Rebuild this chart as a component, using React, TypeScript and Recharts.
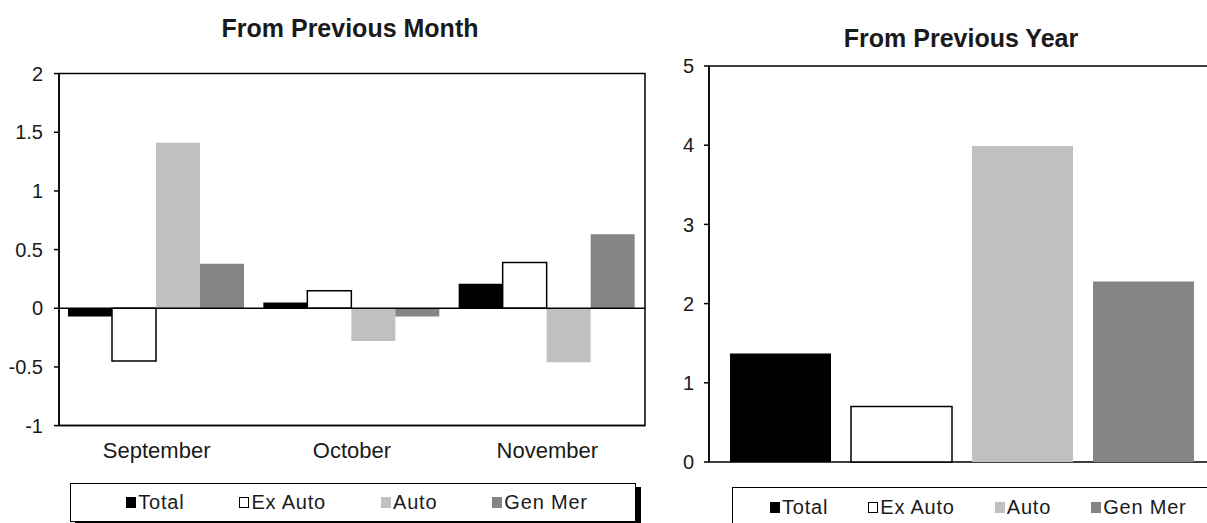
import React from 'react';
import { BarChart, Bar, XAxis, YAxis, ReferenceLine, ReferenceArea, Legend } from 'recharts';

// ---- data ----
const months = ['September', 'October', 'November'];
const totalMonthly = [-0.07, 0.05, 0.21];
const exAutoMonthly = [-0.45, 0.15, 0.39];
const autoMonthly = [1.41, -0.28, -0.46];
const genMerMonthly = [0.38, -0.07, 0.63];

const yearCategory = ['Year'];
const totalYearly = [1.37];
const exAutoYearly = [0.7];
const autoYearly = [3.99];
const genMerYearly = [2.28];

const monthTicks = [-1, -0.5, 0, 0.5, 1, 1.5, 2];
const yearTicks = [0, 1, 2, 3, 4, 5];

const seriesKeys = ['total', 'exAuto', 'auto', 'genMer'];
const seriesNames = ['Total', 'Ex Auto', 'Auto', 'Gen Mer'];

const monthlyData = months.map((m, i) => ({
  name: m,
  total: totalMonthly[i],
  exAuto: exAutoMonthly[i],
  auto: autoMonthly[i],
  genMer: genMerMonthly[i],
}));

const yearlyData = yearCategory.map((c, i) => ({
  name: c,
  total: totalYearly[i],
  exAuto: exAutoYearly[i],
  auto: autoYearly[i],
  genMer: genMerYearly[i],
}));

// ---- styles ----
const FONT = '"Liberation Sans", Arial, sans-serif';
const TEXT = '#1a1a1a';
const seriesStyle: Record<string, { fill: string; stroke?: string }> = {
  total: { fill: '#000000' },
  exAuto: { fill: '#ffffff', stroke: '#000000' },
  auto: { fill: '#c0c0c0' },
  genMer: { fill: '#858585' },
};

const makeLegend = (padLeft: number, gap: number, justify: string) => (props: any) => {
  const payload = [...(props.payload || [])].sort(
    (a: any, b: any) => seriesKeys.indexOf(a.dataKey) - seriesKeys.indexOf(b.dataKey)
  );
  return (
    <div
      style={{
        boxSizing: 'border-box',
        width: '100%',
        height: '100%',
        border: '1.5px solid #000',
        boxShadow: '5px 4px 0 #000',
        background: '#fff',
        display: 'flex',
        alignItems: 'center',
        justifyContent: justify,
        paddingLeft: padLeft,
        gap: gap,
        fontFamily: FONT,
        fontSize: 20,
        letterSpacing: 0.8,
        color: TEXT,
      }}
    >
      {payload.map((p: any) => {
        const st = seriesStyle[p.dataKey as string];
        return (
          <div key={String(p.dataKey)} style={{ display: 'flex', alignItems: 'center' }}>
            <span
              style={{
                display: 'inline-block',
                boxSizing: 'border-box',
                width: 10,
                height: 11,
                background: st.fill,
                border: st.stroke ? '1.3px solid #000' : 'none',
                marginRight: 2,
              }}
            />
            <span>{p.value}</span>
          </div>
        );
      })}
    </div>
  );
};

const LeftLegend = makeLegend(8, 55, 'center');
const RightLegend = makeLegend(37, 40, 'flex-start');

const titleStyle = (left: number, top: number, width: number): React.CSSProperties => ({
  position: 'absolute',
  left,
  top,
  width,
  textAlign: 'center',
  fontFamily: FONT,
  fontWeight: 'bold',
  fontSize: 25,
  lineHeight: '25px',
  color: TEXT,
});

export default function App() {
  return (
    <div
      style={{
        position: 'fixed',
        left: 0,
        top: 0,
        width: 1207,
        height: 523,
        overflow: 'hidden',
        background: '#fff',
        fontFamily: FONT,
      }}
    >
      <div style={titleStyle(150, 16, 400)}>From Previous Month</div>
      <div style={titleStyle(761, 26, 400)}>From Previous Year</div>

      <div style={{ position: 'absolute', left: 0, top: 0 }}>
        <BarChart
          width={660}
          height={523}
          data={monthlyData}
          margin={{ top: 73.6, right: 15, left: 0, bottom: 57.4 }}
          barCategoryGap={9}
          barGap={0}
        >
          <XAxis
            dataKey="name"
            height={40}
            tickLine={false}
            tickSize={0}
            tickMargin={17}
            axisLine={{ stroke: '#000', strokeWidth: 1.5 }}
            tick={{ fontSize: 22, fill: TEXT, fontFamily: FONT }}
            interval={0}
          />
          <YAxis
            width={59}
            domain={[-1, 2]}
            ticks={monthTicks}
            interval={0}
            tickSize={5}
            tickMargin={11}
            axisLine={{ stroke: '#000', strokeWidth: 1.5 }}
            tickLine={{ stroke: '#000', strokeWidth: 1.5 }}
            tick={{ fontSize: 20, fill: TEXT, fontFamily: FONT }}
          />
          <ReferenceArea y1={-1} y2={2} fill="none" fillOpacity={0} stroke="#000" strokeWidth={1.5} />
          {seriesKeys.map((k, i) => (
            <Bar
              key={k}
              dataKey={k}
              name={seriesNames[i]}
              fill={seriesStyle[k].fill}
              stroke={seriesStyle[k].stroke || 'none'}
              strokeWidth={1.5}
              isAnimationActive={false}
            />
          ))}
          <ReferenceLine y={0} stroke="#000" strokeWidth={1.5} />
          <Legend
            layout="horizontal"
            verticalAlign="middle"
            align="center"
            itemSorter={null as any}
            content={LeftLegend}
            wrapperStyle={{ left: 70, top: 483, width: 566, height: 39 }}
          />
        </BarChart>
      </div>

      <div style={{ position: 'absolute', left: 660, top: 0 }}>
        <BarChart
          width={569}
          height={523}
          data={yearlyData}
          margin={{ top: 66, right: 15, left: 0, bottom: 61 }}
          barCategoryGap={21}
          barGap={20}
        >
          <XAxis
            dataKey="name"
            height={0}
            tick={false}
            tickLine={false}
            axisLine={{ stroke: '#000', strokeWidth: 1.5 }}
          />
          <YAxis
            width={49}
            domain={[0, 5]}
            ticks={yearTicks}
            interval={0}
            tickSize={5}
            tickMargin={10}
            axisLine={{ stroke: '#000', strokeWidth: 1.5 }}
            tickLine={{ stroke: '#000', strokeWidth: 1.5 }}
            tick={{ fontSize: 20, fill: TEXT, fontFamily: FONT }}
          />
          <ReferenceArea y1={0} y2={5} fill="none" fillOpacity={0} stroke="#000" strokeWidth={1.5} />
          {seriesKeys.map((k, i) => (
            <Bar
              key={k}
              dataKey={k}
              name={seriesNames[i]}
              fill={seriesStyle[k].fill}
              stroke={seriesStyle[k].stroke || 'none'}
              strokeWidth={1.5}
              isAnimationActive={false}
            />
          ))}
          <Legend
            layout="horizontal"
            verticalAlign="middle"
            align="center"
            itemSorter={null as any}
            content={RightLegend}
            wrapperStyle={{ left: 72, top: 487, width: 560, height: 40 }}
          />
        </BarChart>
      </div>
    </div>
  );
}
